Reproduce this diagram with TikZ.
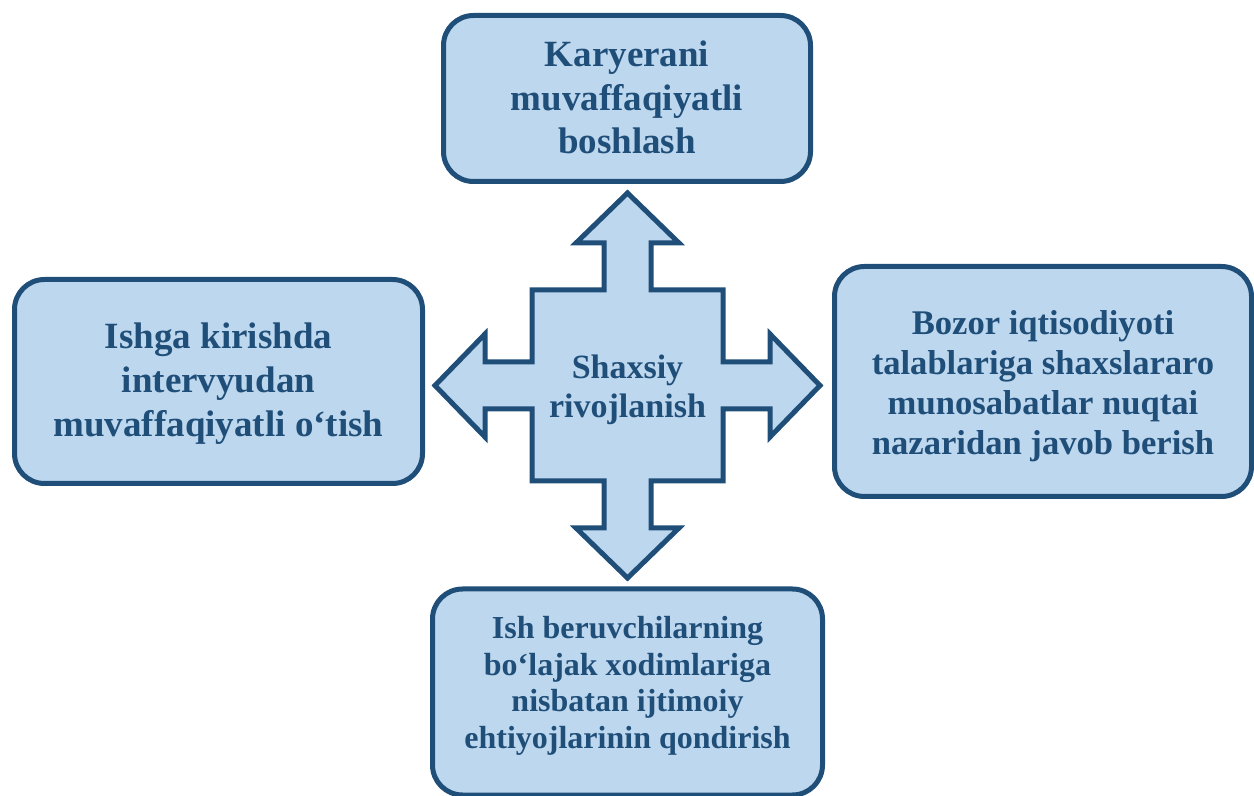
\documentclass[tikz,border=0pt]{standalone}
\usepackage{fontspec}
\setmainfont{Liberation Serif}
\definecolor{boxfill}{HTML}{BDD7EE}
\definecolor{boxline}{HTML}{1F4E79}
\begin{document}
\begin{tikzpicture}[x=0.5pt,y=-0.5pt,
  goalbox/.style={draw=boxline,fill=boxfill,line width=2.5pt,rounded corners=15pt,inner sep=0pt},
  boxtext/.style={align=center,inner sep=0pt,text=boxline,font=\bfseries},
  hubtext/.style={boxtext,font=\bfseries\fontsize{17}{19.5}\selectfont}]
\useasboundingbox (0,0) rectangle (1254,796);

% four goal boxes
\node[goalbox,minimum width=183.5pt,minimum height=83pt] (top) at (627,98.5) {};
\node[goalbox,minimum width=204pt,minimum height=102pt] (left) at (218.5,381.5) {};
\node[goalbox,minimum width=208.5pt,minimum height=115pt] (right) at (1043,381.5) {};
\node[goalbox,minimum width=195pt,minimum height=103pt] (bottom) at (627.5,692) {};

% their texts
\node[boxtext,font=\bfseries\fontsize{18.5}{21.6}\selectfont] (toptext) at (627,97.5)
  {Karyerani\\muvaffaqiyatli\\boshlash};
\node[boxtext,font=\bfseries\fontsize{18.5}{22}\selectfont] (lefttext) at (218.5,384)
  {Ishga kirishda\\intervyudan\\muvaffaqiyatli o‘tish};
\node[boxtext,font=\bfseries\fontsize{17.3}{20}\selectfont] (righttext) at (1043,386)
  {Bozor iqtisodiyoti\\talablariga shaxslararo\\munosabatlar nuqtai\\nazaridan javob berish};
\node[boxtext,font=\bfseries\fontsize{16}{18.25}\selectfont] (bottomtext) at (627.5,686)
  {Ish beruvchilarning\\bo‘lajak xodimlariga\\nisbatan ijtimoiy\\ehtiyojlarinin qondirish};

% central four-way arrow
\begin{scope}[shift={(627.5,385.5)}]
\draw[draw=boxline,fill=boxfill,line width=2.5pt,line join=miter]
  (0,-192.5) -- (51.5,-142.5) -- (23.5,-142.5) -- (23.5,-95.5) -- (95.5,-95.5)
  -- (95.5,-23.5) -- (142.5,-23.5) -- (142.5,-51.5) -- (192.5,0) -- (142.5,51.5)
  -- (142.5,23.5) -- (95.5,23.5) -- (95.5,95.5) -- (23.5,95.5) -- (23.5,142.5)
  -- (51.5,142.5) -- (0,192.5) -- (-51.5,142.5) -- (-23.5,142.5) -- (-23.5,95.5)
  -- (-95.5,95.5) -- (-95.5,23.5) -- (-142.5,23.5) -- (-142.5,51.5) -- (-192.5,0)
  -- (-142.5,-51.5) -- (-142.5,-23.5) -- (-95.5,-23.5) -- (-95.5,-95.5)
  -- (-23.5,-95.5) -- (-23.5,-142.5) -- (-51.5,-142.5) -- cycle;
\end{scope}
\node[hubtext] (hub) at (627.5,390) {Shaxsiy\\rivojlanish};
\end{tikzpicture}
\end{document}
